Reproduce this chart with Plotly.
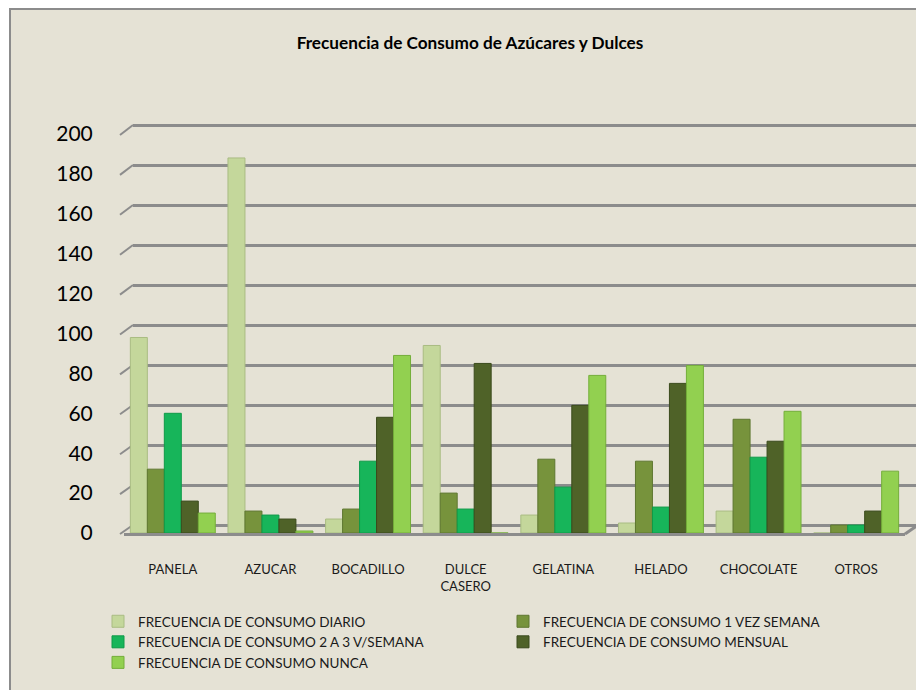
import plotly.graph_objects as go

categories = ["PANELA", "AZUCAR", "BOCADILLO", "DULCE<br>CASERO", "GELATINA",
              "HELADO", "CHOCOLATE", "OTROS"]
series_names = ["FRECUENCIA DE CONSUMO DIARIO",
                "FRECUENCIA DE CONSUMO 1 VEZ SEMANA",
                "FRECUENCIA DE CONSUMO 2 A 3 V/SEMANA",
                "FRECUENCIA DE CONSUMO MENSUAL",
                "FRECUENCIA DE CONSUMO NUNCA"]
diario = [98, 188, 7, 94, 9, 5, 11, 0]
una_vez = [32, 11, 12, 20, 37, 36, 57, 4]
dos_tres = [60, 9, 36, 12, 23, 13, 38, 4]
mensual = [16, 7, 58, 85, 64, 75, 46, 11]
nunca = [10, 1, 89, 0, 79, 84, 61, 31]
y_ticks = [0, 20, 40, 60, 80, 100, 120, 140, 160, 180, 200]

series_values = [diario, una_vez, dos_tres, mensual, nunca]
colors = ["#C4D79B", "#77933C", "#17B55A", "#4F6228", "#92D050"]
edge_colors = ["#A9BC82", "#5E7730", "#0E9A48", "#3A4A1C", "#74AE3A"]

# figure geometry (page has an 8px body margin)
W, H = 916, 682
L, R, T, B = 116, 6, 112, 157
pw, ph = W - L - R, H - T - B
GRID = "#8C8C8C"
FRONT0, FRONT200 = 525, 126      # front plane pixel rows (fig coords)
BACK0, BACK200 = 517, 117        # back plane pixel rows
front_scale = (FRONT0 - FRONT200) / 200
back_scale = (BACK0 - BACK200) / 200


def py(pix):
    """pixel row (fig coords) -> paper y"""
    return (FRONT0 - pix) / ph


def px(pix):
    """pixel column (fig coords) -> paper x"""
    return (pix - L) / pw


fig = go.Figure()
# invisible trace carrying the back-plane gridlines (first subplot -> drawn underneath)
fig.add_trace(go.Scatter(x=[0, 1], y=[0, 0], xaxis="x", yaxis="y",
                         mode="lines", line=dict(width=0), showlegend=False,
                         hoverinfo="skip"))
for name, vals, c, ec in zip(series_names, series_values, colors, edge_colors):
    fig.add_trace(go.Bar(x=categories, y=vals, name=name, xaxis="x2", yaxis="y2",
                         marker=dict(color=c, line=dict(color=ec, width=1))))

shapes = [dict(type="rect", xref="paper", yref="paper",
               x0=px(2), x1=px(W + 30), y0=py(H + 30), y1=py(1),
               fillcolor="#E5E2D5", line=dict(color=GRID, width=2),
               layer="below")]
# slanted connectors from the front tick to the back gridline
for v in y_ticks:
    shapes.append(dict(type="line", xref="paper", yref="paper",
                       x0=px(112), x1=px(125),
                       y0=py(FRONT0 - v * front_scale + 1),
                       y1=py(BACK0 - v * back_scale),
                       line=dict(color=GRID, width=2), layer="below"))
# right end of the floor
shapes.append(dict(type="line", xref="paper", yref="paper",
                   x0=px(897), x1=px(910), y0=py(FRONT0 + 1), y1=py(BACK0),
                   line=dict(color=GRID, width=3), layer="below"))

fig.update_layout(
    width=W, height=H,
    paper_bgcolor="white",
    plot_bgcolor="rgba(0,0,0,0)",
    margin=dict(l=L, r=R, t=T, b=B),
    barmode="group",
    bargap=0.13,
    bargroupgap=0,
    font=dict(family="Lato, Open Sans, sans-serif", color="black"),
    title=dict(text="<b>Frecuencia de Consumo de Azúcares y Dulces</b>",
               x=462 / W, xanchor="center", y=1 - 35 / H, yanchor="middle",
               font=dict(size=17.2, family="Lato, Open Sans, sans-serif", color="black")),
    legend=dict(orientation="h", x=px(90), xanchor="left",
                y=py(598), yanchor="top",
                entrywidth=360, entrywidthmode="pixels",
                itemwidth=30,
                font=dict(size=13.5, family="Lato, Open Sans, sans-serif", color="#1a1a1a"),
                bgcolor="rgba(0,0,0,0)", traceorder="normal"),
    shapes=shapes,
    xaxis=dict(domain=[px(125), 1], anchor="y", range=[0, 1],
               visible=False, fixedrange=True),
    yaxis=dict(domain=[py(BACK0 + 2 * back_scale), py(BACK200 - 2 * back_scale)],
               anchor="x", range=[-2, 202],
               tickvals=y_ticks, showgrid=True, gridcolor=GRID, gridwidth=2.5,
               zeroline=False, showticklabels=False, ticks="", fixedrange=True),
    xaxis2=dict(domain=[0, px(897)], anchor="y2", showgrid=False, showline=True,
                linecolor=GRID, linewidth=3, ticks="outside", ticklen=0,
                ticklabelstandoff=22, tickfont=dict(size=13, color="#1a1a1a")),
    yaxis2=dict(domain=[0, py(FRONT200)], anchor="x2", range=[0, 200],
                tickvals=y_ticks, showgrid=False, zeroline=False, ticks="outside",
                ticklen=0, ticklabelstandoff=26, tickfont=dict(size=21, color="black")),
)

fig.write_html("out.html")
